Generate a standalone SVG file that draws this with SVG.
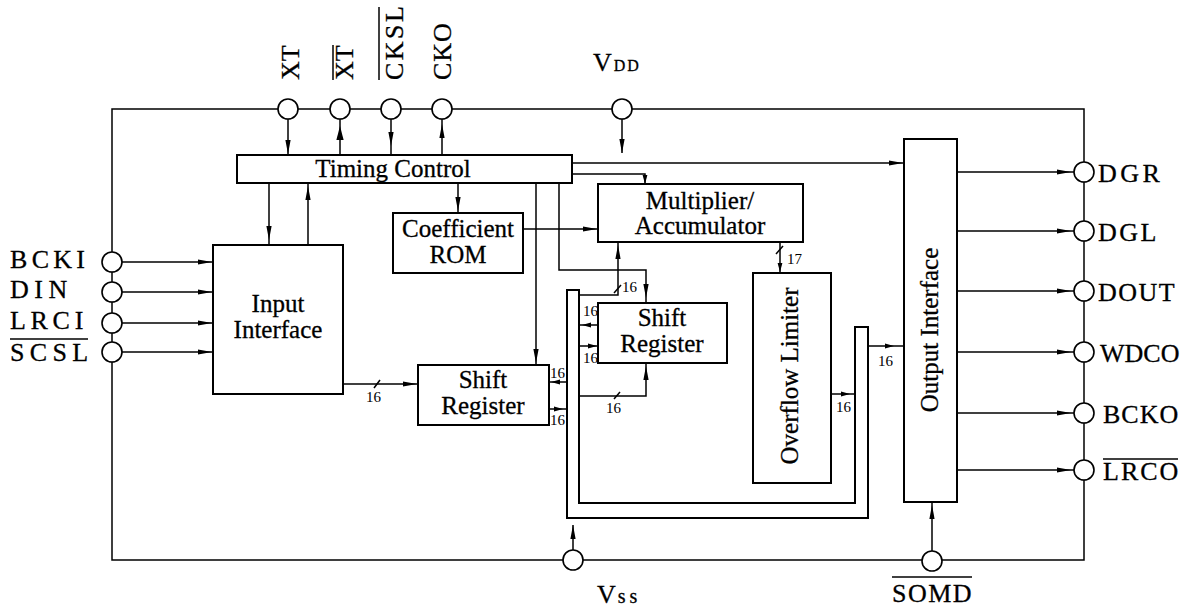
<svg xmlns="http://www.w3.org/2000/svg" xmlns:xlink="http://www.w3.org/1999/xlink" width="1185" height="607" viewBox="0 0 1185 607">
<style>
.bg{fill:#fff}
.box{fill:#fff;stroke:#000;stroke-width:2}
.ln{fill:none;stroke:#000;stroke-width:1.5}
.pin{fill:#fff;stroke:#000;stroke-width:1.6}
.t{font-family:"Liberation Serif","Times New Roman",serif;font-size:25px;fill:#000;stroke:#000;stroke-width:0.3}
.c{text-anchor:middle}
.pl{font-family:"Liberation Serif","Times New Roman",serif;font-size:26px;fill:#000;stroke:#000;stroke-width:0.3}
.n{font-family:"Liberation Serif","Times New Roman",serif;font-size:15px;fill:#000}
.ah{fill:#000}
</style>
<defs>
<path id="ah" d="M0,0 L-14,-2.6 L-14,2.6 Z"/>
<path id="as" d="M0,0 L-9,-2.4 L-9,2.4 Z"/>
</defs>
<rect class="bg" x="0" y="0" width="1185" height="607"/>

<g id="connectors">
  <!-- outer frame -->
  <path class="ln" d="M112,109 H1084 V560 H112 Z"/>
  <!-- top pins to timing -->
  <line class="ln" x1="288" y1="119" x2="288" y2="155"/>
  <line class="ln" x1="340" y1="119" x2="340" y2="155"/>
  <line class="ln" x1="391" y1="119" x2="391" y2="155"/>
  <line class="ln" x1="442" y1="119" x2="442" y2="155"/>
  <line class="ln" x1="622" y1="119" x2="622" y2="153"/>
  <use href="#ah" class="ah" transform="translate(288,154) rotate(90)"/>
  <use href="#ah" class="ah" transform="translate(340,126) rotate(-90) scale(1,1.4)"/>
  <use href="#ah" class="ah" transform="translate(391,146) rotate(90)"/>
  <use href="#ah" class="ah" transform="translate(442,124) rotate(-90)"/>
  <use href="#ah" class="ah" transform="translate(622,153) rotate(90)"/>
  <!-- timing to input interface -->
  <line class="ln" x1="269" y1="183" x2="269" y2="245"/>
  <use href="#ah" class="ah" transform="translate(269,240) rotate(90)"/>
  <line class="ln" x1="308" y1="183" x2="308" y2="245"/>
  <use href="#ah" class="ah" transform="translate(308,186) rotate(-90)"/>
  <!-- timing to coefficient ROM -->
  <line class="ln" x1="458" y1="183" x2="458" y2="213"/>
  <use href="#ah" class="ah" transform="translate(458,211) rotate(90)"/>
  <!-- timing to SR1 -->
  <line class="ln" x1="536" y1="183" x2="536" y2="365"/>
  <use href="#ah" class="ah" transform="translate(536,363) rotate(90)"/>
  <!-- timing to SR2 -->
  <path class="ln" d="M559,183 V270 H646 V303"/>
  <use href="#ah" class="ah" transform="translate(646,298) rotate(90)"/>
  <!-- timing to output interface -->
  <line class="ln" x1="572" y1="163" x2="904" y2="163"/>
  <use href="#ah" class="ah" transform="translate(903,163)"/>
  <!-- timing to multiplier -->
  <path class="ln" d="M572,174 H645 V184"/>
  <use href="#as" class="ah" transform="translate(645,184) rotate(90)"/>
  <!-- coefficient ROM to multiplier -->
  <line class="ln" x1="523" y1="229" x2="598" y2="229"/>
  <use href="#ah" class="ah" transform="translate(597,229)"/>
  <!-- multiplier to bus -->
  <path class="ln" d="M618,242 V295 H579"/>
  <use href="#ah" class="ah" transform="translate(618,245) rotate(-90)"/>
  <line class="ln" x1="614" y1="293" x2="621" y2="285"/>
  <!-- multiplier to overflow limiter -->
  <line class="ln" x1="780" y1="242" x2="780" y2="273"/>
  <line class="ln" x1="776" y1="254" x2="783" y2="246"/>
  <use href="#as" class="ah" transform="translate(780,272) rotate(90)"/>
  <!-- left pins to input interface -->
  <line class="ln" x1="122" y1="262" x2="213" y2="262"/>
  <line class="ln" x1="122" y1="292" x2="213" y2="292"/>
  <line class="ln" x1="122" y1="323" x2="213" y2="323"/>
  <line class="ln" x1="122" y1="352" x2="213" y2="352"/>
  <use href="#ah" class="ah" transform="translate(212,262)"/>
  <use href="#ah" class="ah" transform="translate(212,292)"/>
  <use href="#ah" class="ah" transform="translate(212,323)"/>
  <use href="#ah" class="ah" transform="translate(212,352)"/>
  <!-- input interface to SR1 -->
  <line class="ln" x1="343" y1="384" x2="418" y2="384"/>
  <line class="ln" x1="374" y1="388" x2="380" y2="380"/>
  <use href="#ah" class="ah" transform="translate(417,384)"/>
  <!-- SR1 to bus -->
  <line class="ln" x1="549" y1="382" x2="567" y2="382"/>
  <use href="#as" class="ah" transform="translate(551,382) rotate(180)"/>
  <line class="ln" x1="549" y1="409" x2="567" y2="409"/>
  <use href="#as" class="ah" transform="translate(563,409)"/>
  <!-- bus to SR2 -->
  <line class="ln" x1="579" y1="325" x2="598" y2="325"/>
  <use href="#as" class="ah" transform="translate(582,325) rotate(180)"/>
  <line class="ln" x1="579" y1="346" x2="598" y2="346"/>
  <use href="#as" class="ah" transform="translate(597,346)"/>
  <!-- bus to SR2 bottom -->
  <path class="ln" d="M579,396 H646 V363"/>
  <line class="ln" x1="614" y1="399" x2="620" y2="392"/>
  <use href="#ah" class="ah" transform="translate(646,366) rotate(-90)"/>
  <!-- overflow to bus -->
  <line class="ln" x1="831" y1="394" x2="855" y2="394"/>
  <use href="#as" class="ah" transform="translate(850,394)"/>
  <!-- bus to output interface -->
  <line class="ln" x1="868" y1="346" x2="904" y2="346"/>
  <use href="#as" class="ah" transform="translate(894,346)"/>
  <!-- output interface to right pins -->
  <line class="ln" x1="957" y1="172" x2="1074" y2="172"/>
  <line class="ln" x1="957" y1="231" x2="1074" y2="231"/>
  <line class="ln" x1="957" y1="291" x2="1074" y2="291"/>
  <line class="ln" x1="957" y1="352" x2="1074" y2="352"/>
  <line class="ln" x1="957" y1="413" x2="1074" y2="413"/>
  <line class="ln" x1="957" y1="470" x2="1074" y2="470"/>
  <use href="#ah" class="ah" transform="translate(1071,172)"/>
  <use href="#ah" class="ah" transform="translate(1071,231)"/>
  <use href="#ah" class="ah" transform="translate(1071,291)"/>
  <use href="#ah" class="ah" transform="translate(1071,352)"/>
  <use href="#ah" class="ah" transform="translate(1071,413)"/>
  <use href="#ah" class="ah" transform="translate(1071,470)"/>
  <!-- SOMD to output interface -->
  <line class="ln" x1="932" y1="551" x2="932" y2="502"/>
  <use href="#ah" class="ah" transform="translate(932,505) rotate(-90)"/>
  <!-- Vss arrow -->
  <line class="ln" x1="573" y1="550" x2="573" y2="525"/>
  <use href="#ah" class="ah" transform="translate(573,525) rotate(-90)"/>
</g>

<g id="bus">
  <path class="box" d="M567,518 V290 H579 V503 H855 V327 H868 V518 Z"/>
</g>

<g id="pins">
  <circle class="pin" cx="288" cy="109" r="10"/>
  <circle class="pin" cx="340" cy="109" r="10"/>
  <circle class="pin" cx="391" cy="109" r="10"/>
  <circle class="pin" cx="442" cy="109" r="10"/>
  <circle class="pin" cx="622" cy="109" r="10"/>
  <circle class="pin" cx="112" cy="262" r="10"/>
  <circle class="pin" cx="112" cy="292" r="10"/>
  <circle class="pin" cx="112" cy="323" r="10"/>
  <circle class="pin" cx="112" cy="352" r="10"/>
  <circle class="pin" cx="1084" cy="172" r="10"/>
  <circle class="pin" cx="1084" cy="231" r="10"/>
  <circle class="pin" cx="1084" cy="291" r="10"/>
  <circle class="pin" cx="1084" cy="352" r="10"/>
  <circle class="pin" cx="1084" cy="413" r="10"/>
  <circle class="pin" cx="1084" cy="470" r="10"/>
  <circle class="pin" cx="573" cy="560" r="10"/>
  <circle class="pin" cx="932" cy="561" r="10"/>
</g>

<g id="pin-labels">
  <text class="pl" transform="translate(299,80) rotate(-90)">XT</text>
  <text class="pl" transform="translate(353,80) rotate(-90)">XT</text>
  <line class="ln" x1="333" y1="45" x2="333" y2="80"/>
  <text class="pl" transform="translate(403,80) rotate(-90)" letter-spacing="2.5">CKSL</text>
  <line class="ln" x1="379" y1="7" x2="379" y2="80"/>
  <text class="pl" transform="translate(451,80) rotate(-90)" letter-spacing="1">CKO</text>
  <text class="pl" x="593" y="71" font-size="21">V<tspan font-size="16" letter-spacing="2" dx="2">DD</tspan></text>
  <text class="pl" x="10" y="268" letter-spacing="4.3">BCKI</text>
  <text class="pl" x="10" y="298" letter-spacing="5.5">DIN</text>
  <text class="pl" x="10" y="329" letter-spacing="4.7">LRCI</text>
  <line class="ln" x1="10" y1="339" x2="88" y2="339"/>
  <text class="pl" x="10" y="361" letter-spacing="5.3">SCSL</text>
  <text class="pl" x="1098" y="182" letter-spacing="3.5">DGR</text>
  <text class="pl" x="1098" y="241" letter-spacing="2.5">DGL</text>
  <text class="pl" x="1098" y="301" letter-spacing="1.5">DOUT</text>
  <text class="pl" x="1100" y="362">WDCO</text>
  <text class="pl" x="1103" y="423" letter-spacing="1">BCKO</text>
  <line class="ln" x1="1103" y1="459" x2="1178" y2="459"/>
  <text class="pl" x="1103" y="480" letter-spacing="2">LRCO</text>
  <text class="pl" x="597" y="603" font-size="22">V<tspan font-size="20" letter-spacing="4" dx="2">ss</tspan></text>
  <line class="ln" x1="892" y1="577" x2="972" y2="577"/>
  <text class="pl" x="892" y="602" letter-spacing="1.5">SOMD</text>
</g>

<g id="timing-control">
  <rect class="box" x="237" y="155" width="335" height="28"/>
  <text class="t c" x="393" y="177">Timing Control</text>
</g>
<g id="input-interface">
  <rect class="box" x="213" y="245" width="130" height="149"/>
  <text class="t c" x="278" y="312">Input</text>
  <text class="t c" x="278" y="338">Interface</text>
</g>
<g id="coefficient-rom">
  <rect class="box" x="393" y="213" width="130" height="60"/>
  <text class="t c" x="458" y="237">Coefficient</text>
  <text class="t c" x="458" y="263">ROM</text>
</g>
<g id="multiplier-accumulator">
  <rect class="box" x="598" y="184" width="205" height="58"/>
  <text class="t c" x="700" y="209">Multiplier/</text>
  <text class="t c" x="700" y="234">Accumulator</text>
</g>
<g id="shift-register-1">
  <rect class="box" x="418" y="365" width="131" height="60"/>
  <text class="t c" x="483" y="388">Shift</text>
  <text class="t c" x="483" y="414">Register</text>
</g>
<g id="shift-register-2">
  <rect class="box" x="598" y="303" width="129" height="60"/>
  <text class="t c" x="662" y="326">Shift</text>
  <text class="t c" x="662" y="352">Register</text>
</g>
<g id="overflow-limiter">
  <rect class="box" x="753" y="273" width="78" height="210"/>
  <text class="t c" transform="translate(798,376) rotate(-90)">Overflow Limiter</text>
</g>
<g id="output-interface">
  <rect class="box" x="904" y="139" width="53" height="363"/>
  <text class="t c" transform="translate(938,330) rotate(-90)">Output Interface</text>
</g>

<g id="bus-widths">
  <text class="n" x="366" y="402">16</text>
  <text class="n" x="550" y="378">16</text>
  <text class="n" x="550" y="425">16</text>
  <text class="n" x="622" y="292">16</text>
  <text class="n" x="583" y="316">16</text>
  <text class="n" x="583" y="363">16</text>
  <text class="n" x="606" y="413">16</text>
  <text class="n" x="787" y="264">17</text>
  <text class="n" x="836" y="412">16</text>
  <text class="n" x="878" y="366">16</text>
</g>
</svg>
